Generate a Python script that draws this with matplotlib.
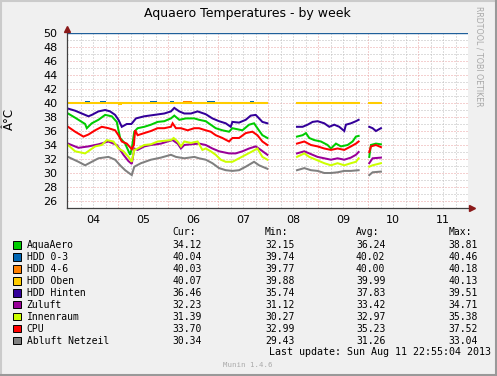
import numpy as np
import matplotlib
matplotlib.use("Agg")
import matplotlib.pyplot as plt
from matplotlib.patches import Rectangle
from matplotlib.lines import Line2D

W, H = 497, 376
GAP = (np.nan, np.nan)

# hours since Sun Aug 04 00:00 -> temperature in degrees C
aquaaero = [(0, 38.5), (3.4, 37.9), (8.2, 37.0), (9.0, 36.4), (11.4, 37.1), (14.6, 37.6), (17.8, 38.3),
            (21.0, 38.1), (23.4, 37.3), (25.0, 35.0), (27.4, 34.2), (29.8, 32.6), (30.6, 33.5), (31.8, 35.9),
            (33.4, 36.4), (36.6, 36.6), (39.8, 36.9), (43.0, 37.3), (46.2, 37.4), (49.4, 37.8), (51.0, 38.2),
            (53.4, 37.6), (56.6, 37.8), (60.6, 37.8), (62.9, 37.6), (66.1, 37.4), (68.5, 36.9), (70.9, 36.4),
            (74.1, 36.1), (77.3, 35.9), (78.9, 36.4), (83.7, 36.1), (86.9, 36.9), (89.3, 37.1), (90.9, 36.4),
            (93.3, 35.4), (95.7, 35.0), GAP,
            (109.9, 35.2), (112.6, 35.4), (114.2, 35.7), (115.8, 35.0), (118.2, 34.7), (121.4, 34.5),
            (124.6, 34.0), (126.2, 33.5), (128.6, 34.2), (131.0, 33.8), (134.2, 34.0), (136.6, 34.5),
            (138.2, 35.2), (139.5, 35.3), GAP,
            (144.6, 32.3), (145.4, 34.0), (147.8, 34.2), (150.2, 34.1)]

hdd_03 = [(0, 40.0), (8.6, 40.2), (10.1, 40.0), (15.8, 40.2), (17.8, 40.0), (39.8, 40.2), (42.2, 40.0),
          (49.4, 40.2), (50.4, 40.0), (67.2, 40.2), (70.1, 40.0), (87.8, 40.2), (88.8, 40.0), (95.7, 40.0), GAP,
          (109.9, 40.0), (139.5, 40.0), GAP, (144.6, 40.0), (150.2, 40.0)]

hdd_46 = [(0, 40.0), (55.7, 40.1), (59.0, 40.0), (95.7, 40.0), GAP,
          (109.9, 40.0), (139.5, 40.0), GAP, (144.6, 40.0), (150.2, 40.0)]

hdd_oben = [(0, 40.0), (24.0, 40.0), (24.6, 39.9), (25.2, 40.0), (95.7, 40.0), GAP,
            (109.9, 40.0), (139.5, 40.0), GAP, (144.6, 40.0), (150.2, 40.0)]

hdd_hinten = [(0, 39.2), (3.4, 38.9), (6.6, 38.5), (9.8, 38.1), (11.4, 38.3), (14.6, 38.8), (17.8, 39.0),
              (20.2, 38.8), (22.6, 38.3), (24.2, 37.6), (25.8, 36.6), (28.2, 37.0), (30.4, 37.0), (32.6, 37.8),
              (36.6, 38.1), (41.4, 38.3), (46.2, 38.5), (49.4, 38.8), (51.0, 39.3), (53.4, 38.8), (55.8, 38.5),
              (59.0, 38.5), (62.2, 38.8), (66.1, 38.4), (69.3, 37.8), (72.5, 37.4), (75.7, 37.1), (78.1, 36.6),
              (78.9, 37.3), (82.1, 37.2), (85.3, 37.6), (87.7, 38.2), (90.1, 38.3), (91.7, 37.8), (93.3, 37.3),
              (95.7, 37.1), GAP,
              (109.9, 36.6), (112.6, 36.6), (115.0, 36.9), (117.4, 37.3), (119.8, 37.4), (123.0, 37.1),
              (125.4, 36.6), (127.8, 36.9), (130.2, 36.6), (132.6, 36.0), (133.4, 36.9), (135.8, 37.1),
              (138.2, 37.4), (139.5, 37.6), GAP,
              (144.6, 36.6), (146.2, 36.4), (147.8, 36.0), (150.2, 36.4)]

zuluft = [(0, 34.2), (5.0, 33.6), (9.8, 33.8), (14.6, 34.1), (19.4, 34.5), (23.4, 34.0), (26.6, 32.6),
          (29.0, 31.7), (30.6, 31.3), (31.8, 33.5), (33.4, 33.3), (36.6, 33.8), (39.8, 34.0), (44.6, 34.2),
          (47.8, 34.5), (50.2, 34.7), (52.6, 34.2), (54.2, 33.5), (55.8, 34.0), (59.0, 34.1), (62.9, 34.2),
          (66.1, 34.0), (69.3, 33.5), (72.5, 33.1), (77.3, 32.8), (80.5, 32.8), (83.7, 33.1), (86.9, 33.5),
          (90.1, 33.8), (92.5, 33.3), (95.7, 32.6), GAP,
          (109.9, 32.8), (113.4, 33.1), (116.6, 32.7), (119.8, 32.3), (123.0, 32.1), (126.2, 31.9),
          (129.4, 32.1), (132.6, 31.9), (135.8, 32.2), (138.2, 32.6), (139.5, 33.0), GAP,
          (144.6, 31.4), (146.2, 32.1), (150.2, 32.2)]

innenraum = [(0, 34.0), (3.4, 33.1), (8.2, 32.8), (13.0, 33.8), (16.2, 34.0), (18.6, 34.7), (21.8, 34.5),
             (24.2, 33.5), (26.6, 33.1), (29.0, 32.3), (30.6, 31.6), (31.8, 33.3), (33.4, 33.5), (36.6, 34.0),
             (39.8, 34.1), (43.0, 34.5), (46.2, 34.6), (49.4, 34.7), (50.7, 35.0), (52.6, 34.5), (54.2, 33.8),
             (55.8, 34.5), (59.0, 34.3), (62.2, 34.5), (64.5, 33.3), (66.1, 33.5), (68.5, 33.1), (70.9, 32.6),
             (73.3, 31.9), (75.7, 31.6), (78.9, 31.6), (82.1, 32.1), (85.3, 32.6), (88.5, 33.1), (90.9, 33.5),
             (93.3, 32.3), (95.7, 31.9), GAP,
             (109.9, 32.3), (113.4, 32.8), (115.8, 32.3), (119.0, 31.9), (123.0, 31.4), (126.2, 31.1),
             (129.4, 31.4), (132.6, 31.1), (135.8, 31.4), (138.2, 31.6), (139.5, 32.1), GAP,
             (144.6, 30.9), (146.2, 31.1), (150.2, 31.4)]

cpu = [(0, 36.6), (3.4, 35.9), (7.4, 35.2), (9.8, 35.5), (13.0, 36.1), (16.2, 36.6), (19.4, 36.4),
       (22.6, 36.1), (24.2, 35.4), (25.8, 34.5), (28.2, 34.2), (30.6, 33.4), (31.6, 34.0), (32.2, 36.1),
       (33.4, 35.4), (36.6, 35.7), (39.8, 36.0), (43.0, 36.4), (46.2, 36.4), (49.4, 36.6), (50.2, 37.1),
       (51.8, 36.4), (54.2, 36.4), (57.4, 36.1), (60.6, 36.4), (62.9, 36.4), (66.1, 36.1), (68.5, 35.9),
       (70.9, 35.4), (74.1, 35.0), (77.3, 34.5), (78.9, 35.0), (82.1, 35.0), (85.3, 35.7), (88.5, 35.9),
       (90.9, 35.4), (93.3, 34.5), (95.7, 34.0), GAP,
       (109.9, 34.2), (113.4, 34.5), (116.6, 34.0), (119.8, 33.8), (123.0, 33.5), (126.2, 33.3),
       (129.4, 33.5), (132.6, 33.3), (135.8, 33.8), (138.2, 34.2), (139.5, 34.5), GAP,
       (144.6, 33.0), (145.4, 33.8), (147.8, 34.0), (150.2, 33.7)]

abluft = [(0, 32.3), (5.0, 31.6), (8.2, 31.1), (11.4, 31.6), (14.6, 32.1), (19.4, 32.3), (22.6, 31.9),
          (25.0, 31.1), (27.4, 30.4), (30.6, 29.7), (31.8, 30.9), (35.0, 31.4), (39.8, 31.9), (44.6, 32.2),
          (49.4, 32.6), (51.8, 32.3), (55.8, 32.1), (60.6, 32.3), (62.9, 32.1), (66.1, 31.9), (69.3, 31.4),
          (72.5, 30.7), (75.7, 30.4), (78.9, 30.3), (82.1, 30.4), (85.3, 30.9), (89.3, 31.6), (91.7, 31.1),
          (94.1, 30.8), (95.7, 30.6), GAP,
          (109.9, 30.4), (113.4, 30.7), (116.6, 30.4), (119.8, 30.3), (123.0, 30.0), (126.2, 30.0),
          (129.4, 30.1), (132.6, 30.3), (135.8, 30.3), (139.5, 30.4), GAP,
          (144.6, 29.7), (146.2, 30.1), (150.2, 30.2)]

names = ["AquaAero", "HDD 0-3", "HDD 4-6", "HDD Oben", "HDD Hinten",
         "Zuluft", "Innenraum", "CPU", "Abluft Netzeil"]
colors = ["#00CC00", "#0066B3", "#FF8000", "#FFCC00", "#330099",
          "#990099", "#CCFF00", "#FF0000", "#808080"]
series = [aquaaero, hdd_03, hdd_46, hdd_oben, hdd_hinten, zuluft, innenraum, cpu, abluft]
stepped = [False, True, True, True, False, False, False, False, False]

cur_vals = [34.12, 40.04, 40.03, 40.07, 36.46, 32.23, 31.39, 33.70, 30.34]
min_vals = [32.15, 39.74, 39.77, 39.88, 35.74, 31.12, 30.27, 32.99, 29.43]
avg_vals = [36.24, 40.02, 40.00, 39.99, 37.83, 33.42, 32.97, 35.23, 31.26]
max_vals = [38.81, 40.46, 40.18, 40.13, 39.51, 34.71, 35.38, 37.52, 33.04]

day_labels = ["04", "05", "06", "07", "08", "09", "10", "11"]
y_ticks = list(range(26, 51, 2))
warn_line = 50


def fx(x):
    return x / W


def fy(y):
    return 1 - y / H


fig = plt.figure(figsize=(W / 100, H / 100), dpi=100)
fig.patch.set_facecolor("#F0F0F0")

# plot area in pixels: x 67..468, y 33..208
ax = fig.add_axes([fx(67), fy(208), 401 / W, 175 / H])
ax.set_facecolor("white")
ax.set_xlim(-0.5, 192)
ax.set_ylim(25, 50)

# grid: gray dotted minor lines, pink dotted major lines
dot = (0, (1, 2))
for v in range(26, 50):
    c = "#EBA3A3" if v % 2 == 0 else "#BDBDBD"
    ln = ax.axhline(v, color=c, lw=0.72, ls=dot, zorder=1)
    ln.set_snap(True)
for h in range(6, 193, 6):
    c = "#EBA3A3" if h % 24 == 0 else "#BDBDBD"
    ln = ax.axvline(h, color=c, lw=0.72, ls=dot, zorder=1)
    ln.set_snap(True)

ax.axhline(warn_line, color="#1F5F9A", lw=1.0, zorder=2)

for data, col, st in zip(series, colors, stepped):
    arr = np.array(data, dtype=float)
    ax.plot(arr[:, 0], arr[:, 1], color=col, lw=1.45, zorder=3,
            drawstyle="steps-post" if st else "default", solid_joinstyle="miter")

for s in ax.spines.values():
    s.set_visible(False)

# axes with arrows
axis_col = "#404040"
arrow_col = "#8B1A1A"
ax.plot([0, 0], [0, 1 + 4 / 175], transform=ax.transAxes, color=axis_col, lw=0.9, clip_on=False, zorder=4)
ax.plot([0, 1 + 3 / 401], [0, 0], transform=ax.transAxes, color=axis_col, lw=0.9, clip_on=False, zorder=4)
ax.plot([0], [1 + 4 / 175], marker="^", ms=5, color=arrow_col, transform=ax.transAxes, clip_on=False, zorder=5)
ax.plot([1 + 4 / 401], [0], marker=">", ms=5, color=arrow_col, transform=ax.transAxes, clip_on=False, zorder=5)

ax.set_yticks(y_ticks)
ax.set_yticklabels([str(v) for v in y_ticks])
ax.set_xticks([12 + 24 * i for i in range(len(day_labels))])
ax.set_xticklabels(day_labels)
ax.tick_params(axis="both", length=0, labelsize=8, colors="black")
ax.tick_params(axis="y", pad=7)
ax.tick_params(axis="x", pad=5)

# titles
fig.text(fx(247.5), fy(13), "Aquaero Temperatures - by week", ha="center", va="center", fontsize=9)
fig.text(fx(9), fy(119), "Â°C", rotation=90, ha="center", va="center", fontsize=8.5)
fig.text(fx(479), fy(56), "RRDTOOL / TOBI OETIKER", rotation=-90, ha="center", va="center",
         fontsize=5.7, color="#A8A8A8")

# legend
mono = "DejaVu Sans Mono"
col_x = [172.7, 265, 356, 448.3]
for hx, lab in zip(col_x, ["Cur:", "Min:", "Avg:", "Max:"]):
    fig.text(fx(hx), fy(232.3), lab, family=mono, fontsize=7, va="center", ha="left")
for i, name in enumerate(names):
    yc = 245 + i * 11.95
    fig.add_artist(Rectangle((fx(13.3), fy(yc + 3.7)), 7.4 / W, 7.4 / H, transform=fig.transFigure,
                             facecolor=colors[i], edgecolor="black", lw=0.7))
    fig.text(fx(26.7), fy(yc), name, family=mono, fontsize=7, va="center", ha="left")
    for hx, vals in zip(col_x, [cur_vals, min_vals, avg_vals, max_vals]):
        fig.text(fx(hx), fy(yc), f"{vals[i]:.2f}", family=mono, fontsize=7, va="center", ha="left")

fig.text(fx(491), fy(351.7), "Last update: Sun Aug 11 22:55:04 2013", family=mono, fontsize=7.2,
         va="center", ha="right")
fig.text(fx(248), fy(365), "Munin 1.4.6", family=mono, fontsize=5.3, va="center", ha="center",
         color="#AAAAAA")

# frame shading
fig.add_artist(Line2D([0, 1], [1 - 1 / H, 1 - 1 / H], transform=fig.transFigure, color="#CBCBCB", lw=1.5))
fig.add_artist(Line2D([1 / W, 1 / W], [0, 1], transform=fig.transFigure, color="#CBCBCB", lw=1.5))
fig.add_artist(Line2D([0, 1], [1 / H, 1 / H], transform=fig.transFigure, color="#999999", lw=1.5))
fig.add_artist(Line2D([1 - 1 / W, 1 - 1 / W], [0, 1], transform=fig.transFigure, color="#999999", lw=1.5))

fig.savefig("out.png", dpi=100, facecolor=fig.get_facecolor())
